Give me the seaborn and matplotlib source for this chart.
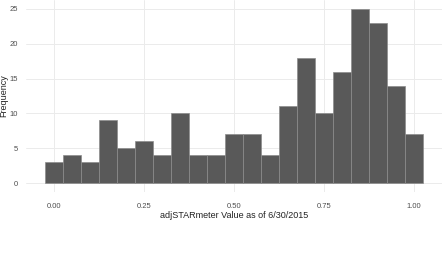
import numpy as np
import pandas as pd
import matplotlib
matplotlib.use('Agg')
import matplotlib.pyplot as plt
import seaborn as sns

# bin centres (binwidth 0.05) and counts
bin_centers = [0.00, 0.05, 0.10, 0.15, 0.20, 0.25, 0.30, 0.35, 0.40, 0.45, 0.50,
               0.55, 0.60, 0.65, 0.70, 0.75, 0.80, 0.85, 0.90, 0.95, 1.00]
counts = [3, 4, 3, 9, 5, 6, 4, 10, 4, 4, 7, 7, 4, 11, 18, 10, 16, 25, 23, 14, 7]
x_ticks = [0.00, 0.25, 0.50, 0.75, 1.00]
y_ticks = [0, 5, 10, 15, 20, 25]

df = pd.DataFrame({'value': bin_centers, 'n': counts})

sns.set_style('white')
plt.rcParams['font.family'] = ['Liberation Sans', 'DejaVu Sans']

fig = plt.figure(figsize=(4.45, 2.54), dpi=100)
ax = fig.add_axes([26 / 445, 1 - 192 / 254, 416 / 445, 192 / 254])

sns.histplot(data=df, x='value', weights='n', binwidth=0.05, binrange=(-0.025, 1.025),
             color='#595959', alpha=1, edgecolor='#8c8c8c', linewidth=0.5, ax=ax)

ax.set_xlim(-0.0775, 1.0775)
ax.set_ylim(-1.25, 26.25)
ax.set_xticks(x_ticks)
ax.set_xticklabels(['%.2f' % t for t in x_ticks])
ax.set_yticks(y_ticks)
ax.grid(True, color='#ebebeb', linewidth=0.7)
ax.set_axisbelow(True)
for s in ax.spines.values():
    s.set_visible(False)
ax.tick_params(axis='both', length=0, labelsize=5.5, labelcolor='#4d4d4d')
ax.tick_params(axis='x', pad=8)
ax.tick_params(axis='y', pad=6)
ax.set_xlabel('adjSTARmeter Value as of 6/30/2015', fontsize=6.5, color='#222222', labelpad=1)
ax.set_ylabel('Frequency', fontsize=6.5, color='#222222')
ax.yaxis.set_label_coords(-0.043, 0.5)

fig.savefig('out.png', dpi=100, facecolor='white')
